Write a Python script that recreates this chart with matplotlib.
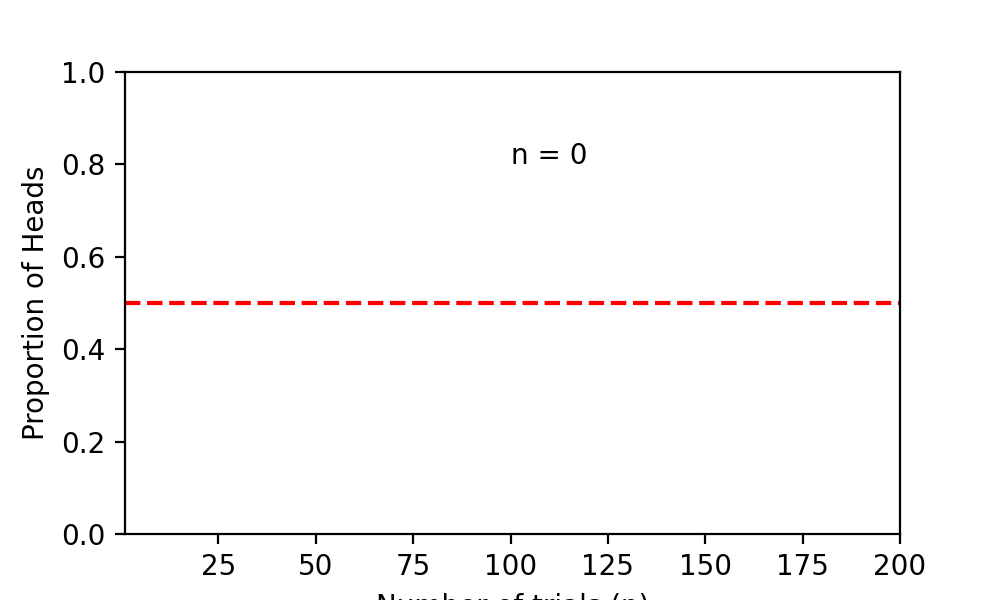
import matplotlib
matplotlib.use("Agg")
import matplotlib.pyplot as plt

x_limits = [1, 200]
y_limits = [0, 1]
expected_p = 0.5
n_trials = 0
text_pos = [100, 0.8]

fig, ax = plt.subplots(figsize=(5, 3), dpi=200)
ax.axhline(expected_p, color='red', linestyle='--')
ax.set_xlim(*x_limits)
ax.set_ylim(*y_limits)
ax.text(text_pos[0], text_pos[1], f'n = {n_trials}')
ax.set_xlabel('Number of trials (n)')
ax.set_ylabel('Proportion of Heads')
fig.savefig('out.png', dpi=200)
